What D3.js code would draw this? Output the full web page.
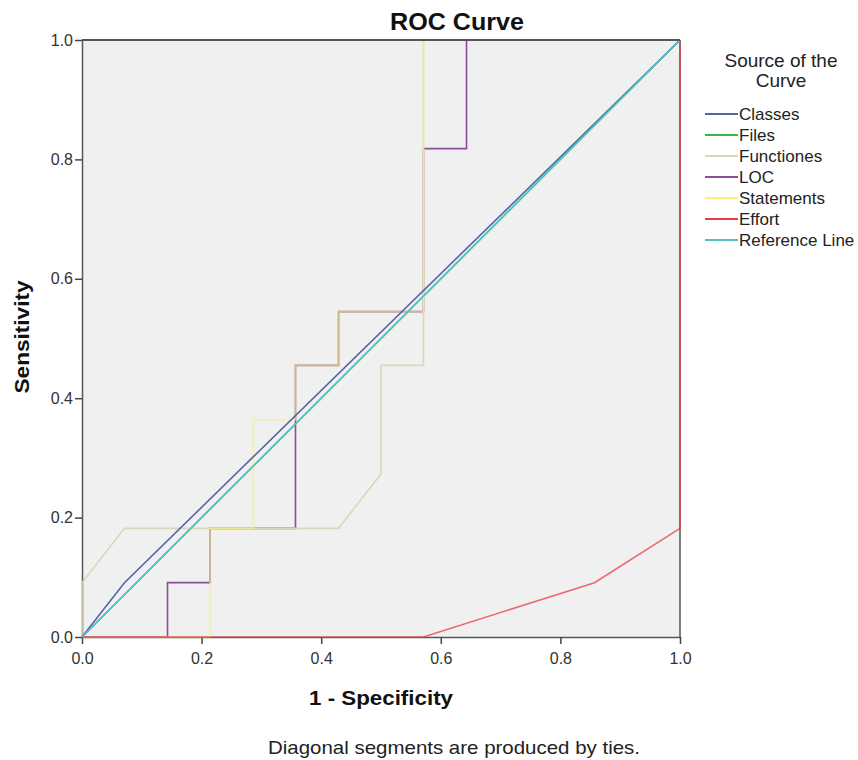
<!DOCTYPE html>
<html>
<head>
<meta charset="utf-8">
<script src="https://cdn.jsdelivr.net/npm/d3@7"></script>
<style>
  body { margin: 0; background: #fff; }
  svg { display: block; font-family: "Liberation Sans", Arial, sans-serif; }
</style>
</head>
<body>
<svg id="chart" width="858" height="760"></svg>
<script>
// ROC curve data (x = 1 - specificity, y = sensitivity)
var xTicks = [0, 0.2, 0.4, 0.6, 0.8, 1.0];
var yTicks = [0, 0.2, 0.4, 0.6, 0.8, 1.0];

var classesX = [0, 0.071, 1];
var classesY = [0, 0.091, 1];

var filesX = [0, 1];
var filesY = [0, 1];

var functionesX = [0, 0, 0.071, 0.429, 0.5, 0.5, 0.571, 0.571, 0.571, 1];
var functionesY = [0, 0.091, 0.182, 0.182, 0.273, 0.455, 0.455, 0.545, 1, 1];

var locX = [0, 0.143, 0.143, 0.214, 0.214, 0.357, 0.357, 0.357, 0.429, 0.429, 0.571, 0.571, 0.643, 0.643, 1];
var locY = [0, 0, 0.091, 0.091, 0.182, 0.182, 0.364, 0.455, 0.455, 0.545, 0.545, 0.818, 0.818, 1, 1];

var statementsX = [0, 0.214, 0.214, 0.286, 0.286, 0.357, 0.357, 0.429, 0.429, 0.571, 0.571, 1];
var statementsY = [0, 0, 0.182, 0.182, 0.364, 0.364, 0.455, 0.455, 0.545, 0.545, 1, 1];

var effortX = [0, 0.571, 0.857, 1, 1];
var effortY = [0, 0, 0.091, 0.182, 1];

var referenceX = [0, 1];
var referenceY = [0, 1];

var seriesNames = ["Classes", "Files", "Functiones", "LOC", "Statements", "Effort", "Reference Line"];
var seriesColors = ["#5068a8", "#3cb44b", "#dad6b8", "#8a4f96", "#f6f27a", "#ea3a48", "#52c3c8"];

var series = [
  {x: classesX, y: classesY},
  {x: filesX, y: filesY},
  {x: functionesX, y: functionesY},
  {x: locX, y: locY},
  {x: statementsX, y: statementsY},
  {x: effortX, y: effortY},
  {x: referenceX, y: referenceY}
].map((s, i) => ({
  name: seriesNames[i],
  color: seriesColors[i],
  points: s.x.map((v, j) => [v, s.y[j]])
}));

var svg = d3.select("#chart");
var x = d3.scaleLinear().domain([0, 1]).range([82, 680]);
var y = d3.scaleLinear().domain([0, 1]).range([637, 40]);

// plot background
svg.append("rect")
  .attr("x", x(0)).attr("y", y(1))
  .attr("width", x(1) - x(0)).attr("height", y(0) - y(1))
  .attr("fill", "#f0f0f0");

// right edge of the frame (Effort runs over it)
svg.append("path")
  .attr("d", `M${x(1)},${y(1)}V${y(0)}`)
  .attr("fill", "none")
  .attr("stroke", "#555")
  .attr("stroke-width", 1.5);

// axes
var xAxis = svg.append("g")
  .attr("transform", `translate(0,${y(0)})`)
  .call(d3.axisBottom(x).tickValues(xTicks).tickFormat(d3.format(".1f")).tickSize(7).tickSizeOuter(0));
var yAxis = svg.append("g")
  .attr("transform", `translate(${x(0)},0)`)
  .call(d3.axisLeft(y).tickValues(yTicks).tickFormat(d3.format(".1f")).tickSize(7).tickSizeOuter(0));

[xAxis, yAxis].forEach(g => {
  g.select(".domain").attr("stroke", "#555").attr("stroke-width", 1.5);
  g.selectAll(".tick line").attr("stroke", "#444").attr("stroke-width", 1.5);
  g.selectAll(".tick text")
    .attr("font-family", "inherit")
    .attr("font-size", 16)
    .attr("fill", "#333");
});
xAxis.selectAll(".tick text").attr("dy", "1.05em");
yAxis.selectAll(".tick text").attr("x", -9);

// curves; LOC underneath so that shared steps blend with the paler lines,
// reference line on top
var line = d3.line().x(d => x(d[0])).y(d => y(d[1]));
var order = [3, 1, 2, 4, 0, 5, 6];
var opacity = {"Statements": 0.65, "Effort": 0.75};
svg.append("g")
  .selectAll("path")
  .data(order.map(i => series[i]))
  .join("path")
    .attr("d", d => line(d.points))
    .attr("fill", "none")
    .attr("stroke", d => d.color)
    .attr("stroke-opacity", d => opacity[d.name] || 1)
    .attr("stroke-width", 1.6);

// top edge of the frame sits over the curves
svg.append("path")
  .attr("d", `M${x(0)},${y(1)}H${x(1)}`)
  .attr("fill", "none")
  .attr("stroke", "#555")
  .attr("stroke-width", 1.8);

// titles
svg.append("text")
  .attr("x", 457).attr("y", 30)
  .attr("text-anchor", "middle")
  .attr("font-size", 23).attr("font-weight", "bold")
  .attr("textLength", 134).attr("lengthAdjust", "spacingAndGlyphs")
  .attr("fill", "#111")
  .text("ROC Curve");

svg.append("text")
  .attr("x", 381).attr("y", 705)
  .attr("text-anchor", "middle")
  .attr("font-size", 21).attr("font-weight", "bold")
  .attr("textLength", 144).attr("lengthAdjust", "spacingAndGlyphs")
  .attr("fill", "#111")
  .text("1 - Specificity");

svg.append("text")
  .attr("transform", "translate(29,337) rotate(-90)")
  .attr("text-anchor", "middle")
  .attr("font-size", 21).attr("font-weight", "bold")
  .attr("textLength", 113).attr("lengthAdjust", "spacingAndGlyphs")
  .attr("fill", "#111")
  .text("Sensitivity");

svg.append("text")
  .attr("x", 454).attr("y", 754)
  .attr("text-anchor", "middle")
  .attr("font-size", 19)
  .attr("textLength", 372).attr("lengthAdjust", "spacingAndGlyphs")
  .attr("fill", "#222")
  .text("Diagonal segments are produced by ties.");

// legend
var legend = svg.append("g");
legend.selectAll("text.head")
  .data(["Source of the", "Curve"])
  .join("text")
    .attr("class", "head")
    .attr("x", 781)
    .attr("y", (d, i) => 67 + i * 20)
    .attr("text-anchor", "middle")
    .attr("font-size", 19)
    .attr("fill", "#222")
    .text(d => d);

var item = legend.selectAll("g.item")
  .data(series)
  .join("g")
    .attr("class", "item")
    .attr("transform", (d, i) => `translate(705,${114 + i * 21})`);
item.append("line")
  .attr("x1", 0).attr("x2", 33)
  .attr("stroke", d => d.color)
  .attr("stroke-width", 2);
item.append("text")
  .attr("x", 34).attr("dy", "0.35em")
  .attr("font-size", 17)
  .attr("fill", "#222")
  .text(d => d.name);
</script>
</body>
</html>
